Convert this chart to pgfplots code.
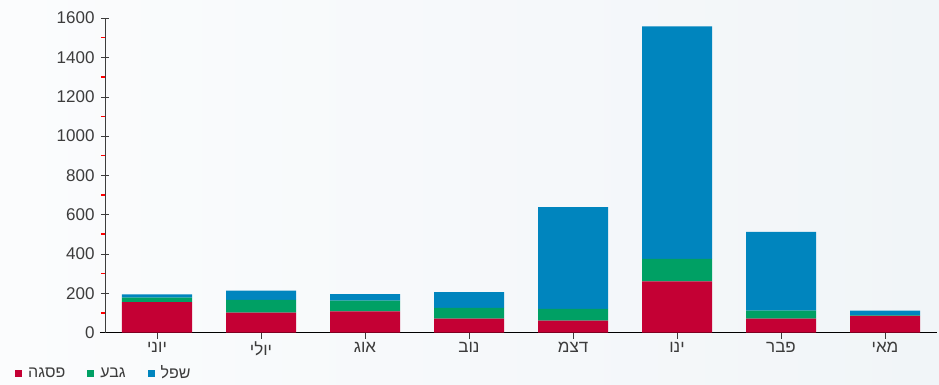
\documentclass[border=0pt]{standalone}
\usepackage{fontspec}
\setmainfont{Liberation Sans}
\newfontfamily\heb[Script=Hebrew]{Liberation Sans}
\TeXXeTstate=1
\usepackage{pgfplots}
\pgfplotsset{compat=1.18}
\definecolor{cRed}{RGB}{196,0,52}
\definecolor{cGreen}{RGB}{0,160,100}
\definecolor{cBlue}{RGB}{0,133,190}
\definecolor{tickgray}{RGB}{60,60,60}
\begin{document}
\begin{tikzpicture}
  \shade[use as bounding box, left color={rgb,255:red,251;green,252;blue,253}, right color={rgb,255:red,241;green,245;blue,248}]
    (-105bp,-52.5bp) rectangle (834bp,332.5bp);
  \begin{axis}[
    at={(0,0)}, anchor=south west,
    scale only axis, width=832bp, height=314.5bp,
    xmin=-0.5, xmax=7.5, ymin=0, ymax=1600,
    ybar stacked, bar width=70bp,
    axis x line*=bottom, axis y line*=left,
    axis line style={-},
    x axis line style={black, shorten <=-5bp},
    y axis line style={tickgray},
    xtick={0,...,7},
    xticklabels={{\beginR יוני\endR},{\beginR יולי\endR},{\beginR אוג\endR},{\beginR נוב\endR},{\beginR דצמ\endR},{\beginR ינו\endR},{\beginR פבר\endR},{\beginR מאי\endR}},
    xticklabel style={font=\heb\fontsize{17bp}{17bp}\selectfont, text=tickgray, yshift=-2bp},
    ytick={0,200,...,1600},
    minor y tick num=1,
    tick align=center,
    major tick length=8bp,
    minor tick length=4bp,
    every major x tick/.style={tickgray, yshift=-2bp},
    every major y tick/.style={tickgray},
    every minor y tick/.style={red, line width=1.5bp, xshift=-2bp},
    yticklabel style={font=\fontsize{17bp}{17bp}\selectfont, text=tickgray, xshift=-3bp},
    /pgf/number format/1000 sep={},
    /pgf/number format/assume math mode=true,
    legend image code/.code={\fill[#1] (0bp,-3.5bp) rectangle (7bp,3.5bp);},
    legend style={at={(axis description cs:0,0)}, anchor=west, xshift=-90bp, yshift=-40.5bp,
      draw=none, fill=none, inner sep=0pt,
      font=\heb\fontsize{16bp}{16bp}\selectfont, text=tickgray,
      /tikz/every odd column/.append style={column sep=4bp},
      /tikz/every even column/.append style={column sep=20bp}},
    legend columns=3,
  ]
    \addplot[fill=cRed, draw=none] coordinates {(0,155) (1,101) (2,108) (3,70) (4,60) (5,260) (6,70) (7,84)};
    \addlegendentry{\beginR פסגה\endR}
    \addplot[fill=cGreen, draw=none] coordinates {(0,22) (1,65) (2,54) (3,55) (4,60) (5,115) (6,41) (7,3)};
    \addlegendentry{\beginR גבע\endR}
    \addplot[fill=cBlue, draw=none] coordinates {(0,17) (1,47) (2,33) (3,80) (4,518) (5,1182) (6,401) (7,24)};
    \addlegendentry{\beginR שפל\endR}
  \end{axis}
\end{tikzpicture}
\end{document}
